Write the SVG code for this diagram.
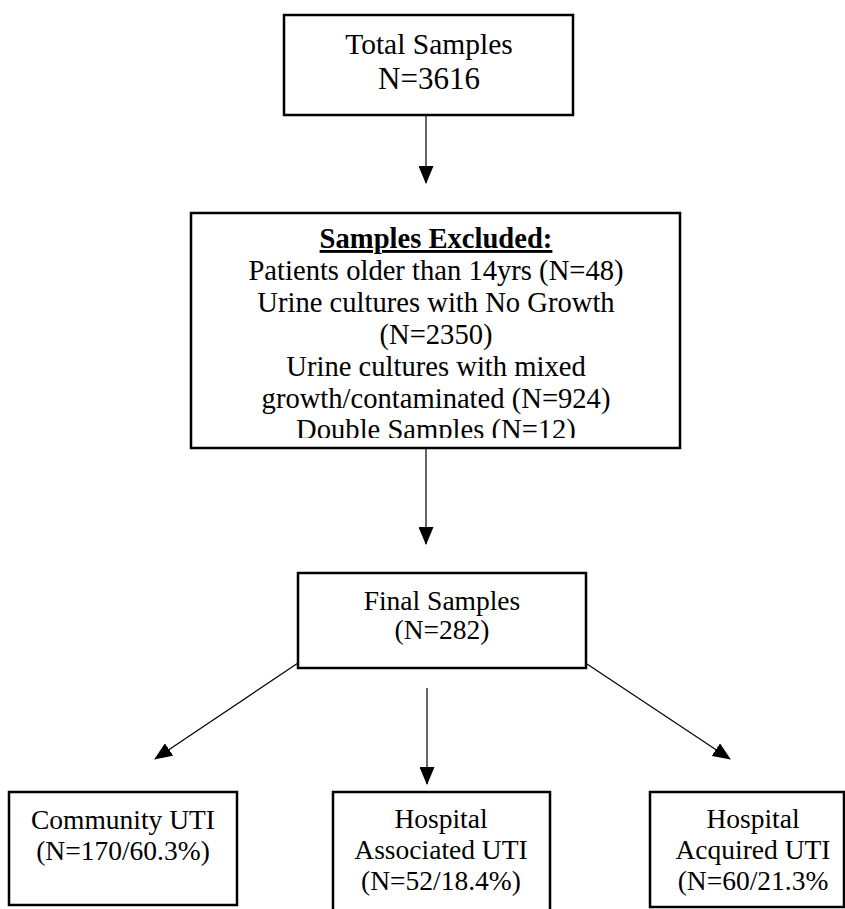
<svg xmlns="http://www.w3.org/2000/svg" width="845" height="909" viewBox="0 0 845 909">
<style>
.box{fill:#fff;stroke:#000;stroke-width:2.5}
.t{font-family:"Liberation Serif","Times New Roman",serif;fill:#000;text-anchor:middle}
.c{stroke:#000;stroke-width:1.2;fill:none}
</style>
<defs>
<marker id="ah" markerWidth="18" markerHeight="15" refX="17" refY="7.5" orient="auto" markerUnits="userSpaceOnUse" viewBox="0 0 18 15">
<path d="M0,0 L18,7.5 L0,15 Z" fill="#000"/>
</marker>
<clipPath id="clip2"><rect x="191" y="213" width="489" height="225"/></clipPath>
</defs>
<rect width="845" height="909" fill="#fff"/>
<g id="connectors">
<line class="c" x1="426" y1="114" x2="426" y2="183" marker-end="url(#ah)"/>
<line class="c" x1="426" y1="448" x2="426" y2="544" marker-end="url(#ah)"/>
<line class="c" x1="298" y1="663" x2="155" y2="759" marker-end="url(#ah)"/>
<line class="c" x1="427" y1="688" x2="427" y2="784" marker-end="url(#ah)"/>
<line class="c" x1="587" y1="664" x2="730" y2="759" marker-end="url(#ah)"/>
</g>
<g id="total">
<rect class="box" x="284" y="15" width="289" height="100"/>
<text class="t" x="429" y="54" font-size="29.5">Total Samples</text>
<text class="t" x="429" y="89" font-size="31">N=3616</text>
</g>
<g id="excluded">
<rect class="box" x="191" y="213" width="489" height="235"/>
<g clip-path="url(#clip2)" class="t" font-size="28.6">
<text x="436" y="248" font-weight="bold" text-decoration="underline">Samples Excluded:</text>
<text x="436" y="280">Patients older than 14yrs (N=48)</text>
<text x="436" y="312">Urine cultures with No Growth</text>
<text x="436" y="344">(N=2350)</text>
<text x="436" y="376">Urine cultures with mixed</text>
<text x="436" y="408">growth/contaminated (N=924)</text>
<text x="436" y="439">Double Samples (N=12)</text>
</g>
</g>
<g id="final">
<rect class="box" x="298" y="573" width="288" height="95"/>
<text class="t" x="442" y="610" font-size="27.5">Final Samples</text>
<text class="t" x="442" y="639" font-size="27.5">(N=282)</text>
</g>
<g id="community">
<rect class="box" x="9" y="792" width="228" height="113"/>
<text class="t" x="123" y="829" font-size="27.5">Community UTI</text>
<text class="t" x="123" y="860" font-size="27.5">(N=170/60.3%)</text>
</g>
<g id="associated">
<rect class="box" x="333" y="792" width="217" height="130"/>
<text class="t" x="441" y="828" font-size="27.5">Hospital</text>
<text class="t" x="441" y="859" font-size="27.5">Associated UTI</text>
<text class="t" x="441" y="890" font-size="27.5">(N=52/18.4%)</text>
</g>
<g id="acquired">
<rect class="box" x="650" y="792" width="194" height="115"/>
<text class="t" x="753" y="828" font-size="27.5">Hospital</text>
<text class="t" x="753" y="859" font-size="27.5">Acquired UTI</text>
<text class="t" x="753" y="890" font-size="27.5">(N=60/21.3%</text>
</g>
</svg>
